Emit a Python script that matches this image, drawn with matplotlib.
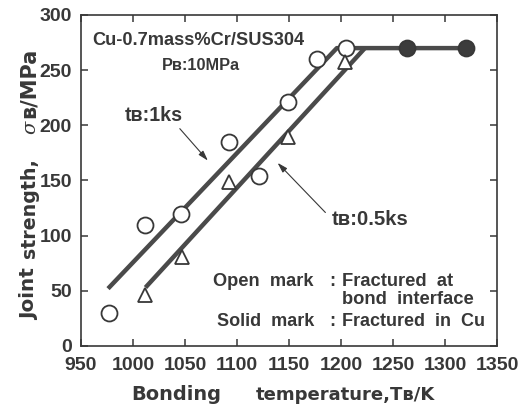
import matplotlib
matplotlib.use("Agg")
import matplotlib.pyplot as plt
from matplotlib.transforms import IdentityTransform

plt.rcParams["font.family"] = ["Liberation Sans", "DejaVu Sans"]
plt.rcParams["font.weight"] = "bold"

ink = "#383838"
line_col = "#4a4a4a"

# joint strength data (bonding temperature in K, strength in MPa)
open_circle_T = [977, 1012, 1046, 1092, 1121, 1149, 1177, 1205]
open_circle_s = [30, 110, 120, 185, 154, 221, 260, 270]
open_tri_T = [1012, 1047, 1092, 1149, 1204]
open_tri_s = [46, 81, 149, 189, 257]
solid_T = [1263, 1320]
solid_s = [270, 270]

# fitted trend lines
fit_1ks_T = [976, 1196, 1320]
fit_1ks_s = [52, 270, 270]
fit_05ks_T = [1012, 1223]
fit_05ks_s = [53, 270]

x_ticks = [950, 1000, 1050, 1100, 1150, 1200, 1250, 1300, 1350]
y_ticks = [0, 50, 100, 150, 200, 250, 300]

W, H = 521, 408
fig = plt.figure(figsize=(W / 100, H / 100), dpi=100)
ax = fig.add_axes([81 / W, 1 - 346 / H, 416 / W, 331 / H])

ax.plot(fit_1ks_T, fit_1ks_s, color=line_col, lw=3.2, solid_capstyle="butt", zorder=2)
ax.plot(fit_05ks_T, fit_05ks_s, color=line_col, lw=3.2, solid_capstyle="butt", zorder=2)

ax.plot(open_circle_T, open_circle_s, "o", ms=11.5, mfc="white", mec=ink, mew=1.3, zorder=3)
ax.plot(open_tri_T, open_tri_s, "^", ms=10, mfc="white", mec=ink, mew=1.3, zorder=3)
ax.plot(solid_T, solid_s, "o", ms=11.5, mfc="#3c3c3c", mec=ink, mew=1.3, zorder=3)

ax.set_xlim(950, 1350)
ax.set_ylim(0, 300)
ax.set_xticks(x_ticks)
ax.set_yticks(y_ticks)
ax.tick_params(direction="in", length=5, width=1.1, colors=ink, labelsize=14,
               top=True, right=True)
ax.tick_params(axis="x", pad=8)
ax.tick_params(axis="y", pad=6.5)
for lab in ax.get_xticklabels() + ax.get_yticklabels():
    lab.set_fontweight("bold")
for sp in ax.spines.values():
    sp.set_color(ink)
    sp.set_linewidth(1.2)

# (text, pixel width it should span)
sized = []

txt = dict(color=ink, fontweight="bold")
t = ax.text(960.5, 277, "Cu-0.7mass%Cr/SUS304", fontsize=13, ha="left", va="center", **txt)
sized.append((t, 213))
t = ax.text(1065, 254, "Pʙ:10MPa", fontsize=12, ha="center", va="center", **txt)
sized.append((t, 78))

arrow = dict(arrowstyle="-|>,head_length=0.6,head_width=0.18",
             color=ink, lw=0.8, shrinkA=0, shrinkB=0)
t = ax.text(992, 209, "tʙ:1ks", fontsize=14, ha="left", va="center", **txt)
sized.append((t, 58))
ax.annotate("", xy=(1072, 168), xytext=(1045, 197), arrowprops=arrow)
t = ax.text(1191, 115, "tʙ:0.5ks", fontsize=14, ha="left", va="center", **txt)
sized.append((t, 77))
ax.annotate("", xy=(1139, 166), xytext=(1185, 121), arrowprops=arrow)

# fracture mode key
key = dict(fontsize=13, va="center", **txt)
sized.append((ax.text(1077, 58.5, "Open  mark", ha="left", **key), 100))
sized.append((ax.text(1080.5, 22, "Solid  mark", ha="left", **key), 97))
ax.text(1192, 58.5, ":", ha="center", **key)
ax.text(1192, 22, ":", ha="center", **key)
sized.append((ax.text(1200.5, 58.5, "Fractured  at", ha="left", **key), 111))
sized.append((ax.text(1200.5, 42, "bond  interface", ha="left", **key), 131))
sized.append((ax.text(1200.5, 22, "Fractured  in  Cu", ha="left", **key), 143))

# axis titles, word by word in pixel coordinates
px = IdentityTransform()
lab = dict(transform=px, color=ink, va="baseline", ha="left",
           family="DejaVu Sans", fontweight="bold")
sized.append((fig.text(131, H - 400, "Bonding", fontsize=13, **lab), 89))
sized.append((fig.text(256, H - 400, "temperature,Tʙ/K", fontsize=13, **lab), 179))

ylab = dict(transform=px, color=ink, va="baseline", ha="left", rotation=90,
            rotation_mode="anchor")
sized.append((fig.text(35, H - 320, "Joint", fontsize=14, family="DejaVu Sans",
                       fontweight="bold", **ylab), 52))
sized.append((fig.text(35, H - 258, "strength,", fontsize=14, family="DejaVu Sans",
                       fontweight="bold", **ylab), 100))
fig.text(35, H - 134, "σ", fontsize=14, family="DejaVu Serif", fontweight="normal",
         style="italic", **ylab)
fig.text(35, H - 118, "ʙ/MPa", fontsize=15, family="DejaVu Sans",
         fontweight="bold", **ylab)

# scale each label so it spans its width on the page
fig.canvas.draw()
renderer = fig.canvas.get_renderer()
for t, target in sized:
    bb = t.get_window_extent(renderer)
    span = bb.height if t.get_rotation() == 90 else bb.width
    t.set_fontsize(t.get_fontsize() * target / span)

fig.savefig("out.png", dpi=100)
